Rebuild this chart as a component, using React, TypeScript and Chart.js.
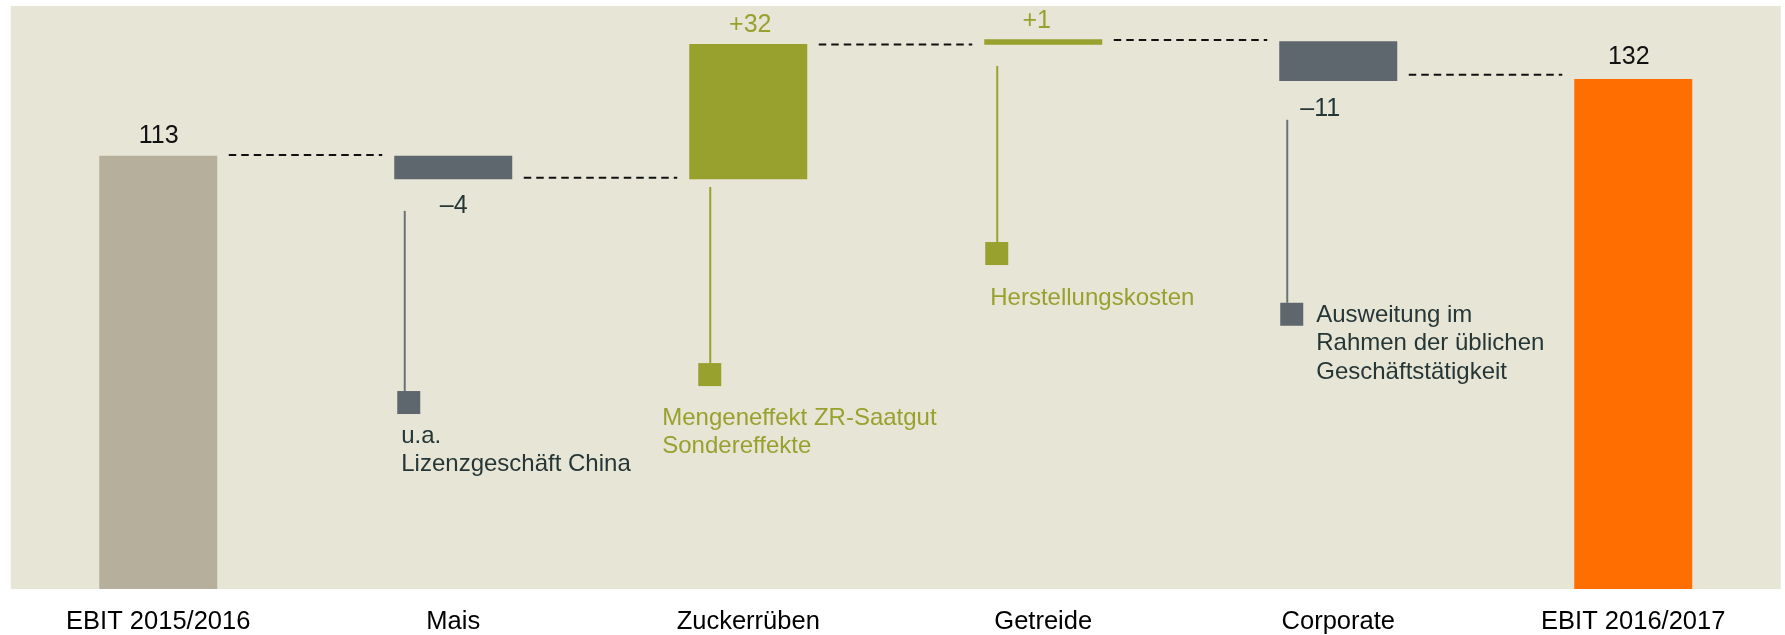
import React, { useEffect, useRef } from 'react';
import { Chart, registerables } from 'chart.js';

Chart.register(...registerables);

// ---------- data ----------
const categories = ['EBIT 2015/2016', 'Mais', 'Zuckerrüben', 'Getreide', 'Corporate', 'EBIT 2016/2017'];
const barLow = [0, 107.2, 107.2, 140.4, 131.5, 0];
const barHigh = [113, 113, 140.6, 141.8, 141.3, 132];
const valueLabels = ['113', '–4', '+32', '+1', '–11', '132'];
const connectorLevels = [113.2, 107.6, 140.5, 141.6, 133];
const noteTexts: string[][] = [
  [],
  ['u.a.', 'Lizenzgeschäft China'],
  ['Mengeneffekt ZR-Saatgut', 'Sondereffekte'],
  ['Herstellungskosten'],
  ['Ausweitung im', 'Rahmen der üblichen', 'Geschäftstätigkeit'],
  [],
];
const leaderTop = [null, 99.4, 105.3, 135.2, 121.9, null];
const leaderEnd = [null, 54.9, 61.8, 91.7, 76.7, null];

// ---------- styles ----------
const FONT = '"Liberation Sans", Arial, Helvetica, sans-serif';
const BG = '#e7e6d6';
const GRAY = '#5f676e';
const OLIVE = '#98a12e';
const DARK = '#263636';
const barColors = ['#b5af9c', GRAY, OLIVE, OLIVE, GRAY, '#ff6e00'];
const labelColors = ['#111111', DARK, OLIVE, OLIVE, DARK, '#111111'];
const labelDx = [0.5, 0.5, 2, -6.5, -18, -4.5];
const labelGap = [13, 34, 12, 11, 35, 15]; // above top (positive bars) or below bottom (negative)
const labelBelow = [false, true, false, false, true, false];
const noteColor = ['', GRAY, OLIVE, OLIVE, GRAY, ''];
const lineColor = ['', '#6b7277', OLIVE, OLIVE, '#6b7277', ''];
const textColor = ['', DARK, OLIVE, OLIVE, DARK, ''];
const lineDx = [0, 10.5, 21, 13, 8, 0];
const squareDx = [0, 3, 9, 1, 1, 0];
const textDx = [0, 7, -27, 6, 37, 0];
const textBaseFromSquareBottom = [0, 29, 39, 40, 0, 0];
const textBeside = [false, false, false, false, true, false];
const SQ = 23;

const bgPlugin = {
  id: 'bgPlugin',
  beforeDraw(chart: any) {
    const { ctx, chartArea } = chart;
    ctx.save();
    ctx.fillStyle = BG;
    ctx.fillRect(chartArea.left, chartArea.top, chartArea.right - chartArea.left, chartArea.bottom - chartArea.top);
    ctx.restore();
  },
};

const overlayPlugin = {
  id: 'overlayPlugin',
  afterDatasetsDraw(chart: any) {
    const { ctx } = chart;
    const yScale = chart.scales.y;
    const bars = chart.getDatasetMeta(0).data;
    ctx.save();

    // dashed connectors
    ctx.strokeStyle = '#111111';
    ctx.lineWidth = 2;
    ctx.setLineDash([7.5, 5]);
    connectorLevels.forEach((lvl, i) => {
      const a = bars[i];
      const b = bars[i + 1];
      const y = yScale.getPixelForValue(lvl);
      ctx.beginPath();
      ctx.moveTo(a.x + a.width / 2 + 11.5, y);
      ctx.lineTo(b.x - b.width / 2 - 12, y);
      ctx.stroke();
    });
    ctx.setLineDash([]);

    // annotations
    noteTexts.forEach((lines, i) => {
      if (!lines.length) return;
      const bar = bars[i];
      const left = bar.x - bar.width / 2;
      const lt = yScale.getPixelForValue(leaderTop[i] as number);
      const sqTop = yScale.getPixelForValue(leaderEnd[i] as number);
      ctx.strokeStyle = lineColor[i];
      ctx.lineWidth = 2;
      ctx.beginPath();
      ctx.moveTo(left + lineDx[i], lt);
      ctx.lineTo(left + lineDx[i], sqTop);
      ctx.stroke();
      ctx.fillStyle = noteColor[i];
      ctx.fillRect(left + squareDx[i], sqTop, SQ, SQ);
      ctx.fillStyle = textColor[i];
      ctx.font = `24px ${FONT}`;
      ctx.textAlign = 'left';
      ctx.textBaseline = 'alphabetic';
      const base = textBeside[i] ? sqTop + 19 : sqTop + SQ + textBaseFromSquareBottom[i];
      const gap = textBeside[i] ? 28.5 : 28;
      lines.forEach((t, k) => ctx.fillText(t, left + textDx[i], base + k * gap));
    });

    // value labels
    ctx.font = `25px ${FONT}`;
    ctx.textAlign = 'center';
    ctx.textBaseline = 'alphabetic';
    valueLabels.forEach((t, i) => {
      const bar = bars[i];
      const top = Math.min(bar.y, bar.base);
      const bottom = Math.max(bar.y, bar.base);
      const y = labelBelow[i] ? bottom + labelGap[i] : top - labelGap[i];
      ctx.fillStyle = labelColors[i];
      ctx.fillText(t, bar.x + labelDx[i], y);
    });
    ctx.restore();
  },
};

export default function App() {
  const ref = useRef<HTMLCanvasElement>(null);
  useEffect(() => {
    if (!ref.current) return;
    const chart = new Chart(ref.current, {
      type: 'bar',
      data: {
        labels: categories,
        datasets: [
          {
            data: categories.map((_, i) => [barLow[i], barHigh[i]]) as any,
            backgroundColor: barColors,
            borderWidth: 0,
            barPercentage: 0.4,
            categoryPercentage: 1,
          },
        ],
      },
      options: {
        responsive: false,
        animation: false,
        devicePixelRatio: 1,
        layout: { padding: { left: 10.75, right: 4.25, top: 6, bottom: 0 } },
        plugins: { legend: { display: false }, tooltip: { enabled: false } },
        scales: {
          x: {
            grid: { display: false },
            border: { display: false },
            ticks: {
              color: '#000000',
              font: { family: FONT, size: 25.5 },
              padding: 10,
              maxRotation: 0,
              autoSkip: false,
            },
            afterFit: (s: any) => {
              s.height = 46;
            },
          },
          y: { display: false, min: 6, max: 150 },
        },
      },
      plugins: [bgPlugin, overlayPlugin],
    });
    return () => chart.destroy();
  }, []);
  return (
    <div style={{ position: 'absolute', left: 0, top: 0, width: 1785, height: 635 }}>
      <canvas ref={ref} width={1785} height={635} style={{ display: 'block' }} />
    </div>
  );
}
